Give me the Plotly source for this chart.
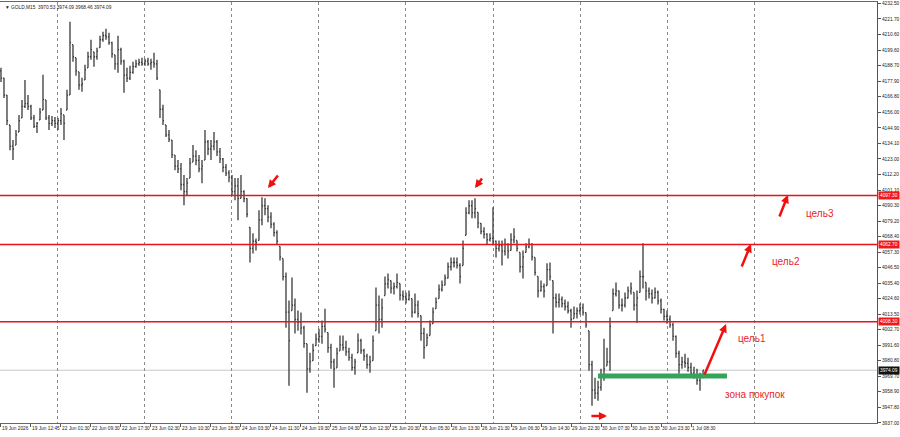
import numpy as np
import plotly.graph_objects as go

# ---------------- data (GOLD, resampled bars) ----------------
high = [4187.2, 4180.2, 4168.1, 4146.9, 4136.3, 4143.4, 4154.0, 4164.6, 4178.7, 4168.1,
        4161.1, 4154.0, 4149.0, 4158.9, 4182.3, 4164.6, 4154.0, 4153.3, 4152.6, 4151.9,
        4158.9, 4154.0, 4171.7, 4219.7, 4203.5, 4194.3, 4184.4, 4180.2, 4189.3, 4198.5,
        4207.0, 4198.5, 4201.4, 4209.8, 4212.7, 4214.8, 4212.0, 4205.6, 4196.4, 4209.8,
        4201.4, 4192.9, 4187.2, 4188.6, 4191.5, 4192.9, 4193.6, 4194.3, 4193.6, 4194.3,
        4193.6, 4197.8, 4192.9, 4171.7, 4161.1, 4146.9, 4143.4, 4136.3, 4125.7, 4122.2,
        4120.1, 4111.6, 4109.5, 4123.6, 4132.8, 4129.2, 4125.7, 4122.2, 4143.4, 4136.3,
        4136.3, 4142.0, 4136.3, 4130.7, 4123.6, 4119.4, 4115.1, 4111.6, 4109.5, 4109.5,
        4111.6, 4101.0, 4095.3, 4074.8, 4070.6, 4067.0, 4086.8, 4096.0, 4095.3, 4090.4,
        4085.4, 4078.3, 4072.7, 4061.4, 4052.9, 4043.0, 4023.2, 4039.5, 4024.6, 4016.1,
        4014.7, 4005.5, 3992.8, 3986.4, 3992.8, 3999.9, 4003.4, 4009.1, 4017.5, 4000.6,
        3992.8, 3982.2, 3990.0, 3998.5, 3998.5, 3994.9, 3990.0, 3985.7, 3982.2, 3999.9,
        3996.3, 3989.3, 3985.7, 3984.3, 3998.5, 4032.4, 4026.7, 4024.6, 4040.2, 4042.3,
        4037.3, 4035.9, 4042.3, 4035.2, 4030.3, 4028.9, 4030.3, 4024.6, 4028.1, 4023.2,
        4012.6, 4004.1, 3999.9, 4009.1, 4018.3, 4025.3, 4034.5, 4037.3, 4041.6, 4050.1,
        4053.6, 4053.6, 4053.6, 4049.4, 4065.6, 4089.0, 4093.9, 4093.9, 4095.3, 4085.4,
        4077.6, 4074.8, 4070.6, 4070.6, 4089.0, 4065.6, 4065.6, 4065.6, 4067.0, 4063.5,
        4070.6, 4074.1, 4065.6, 4057.1, 4058.5, 4063.5, 4067.0, 4063.5, 4053.6, 4040.2,
        4037.3, 4035.2, 4049.4, 4050.1, 4037.3, 4028.1, 4028.1, 4026.0, 4023.9, 4022.5,
        4017.5, 4019.0, 4018.3, 4021.1, 4021.1, 4014.7, 4002.0, 3980.8, 3968.8, 3966.6,
        3975.1, 3996.3, 3990.0, 4011.2, 4031.7, 4035.9, 4030.3, 4024.6, 4028.9, 4033.1,
        4035.9, 4028.9, 4030.3, 4044.4, 4063.5, 4035.9, 4032.4, 4031.0, 4032.4, 4030.3,
        4024.6, 4017.5, 4016.1, 4012.6, 4007.6, 3998.5, 3987.8, 3983.6, 3985.7, 3982.9,
        3979.4, 3976.5, 3975.1, 3972.3, 3974.09]

low = [4177.3, 4166.0, 4146.9, 4129.2, 4122.2, 4132.8, 4142.0, 4151.9, 4158.9, 4157.5,
       4150.5, 4144.8, 4141.3, 4150.5, 4157.5, 4150.5, 4143.4, 4146.2, 4144.8, 4143.4,
       4146.9, 4136.3, 4157.5, 4168.1, 4191.5, 4181.6, 4171.7, 4170.3, 4178.7, 4187.2,
       4192.9, 4187.9, 4192.9, 4201.4, 4205.6, 4207.0, 4203.5, 4194.3, 4185.8, 4183.7,
       4189.3, 4169.6, 4177.3, 4178.7, 4183.0, 4187.2, 4188.6, 4188.6, 4188.6, 4188.6,
       4185.8, 4187.2, 4178.7, 4151.9, 4146.9, 4138.4, 4134.9, 4123.6, 4115.1, 4113.0,
       4101.0, 4090.4, 4097.4, 4109.5, 4120.8, 4118.6, 4113.7, 4105.9, 4122.2, 4125.7,
       4122.2, 4129.2, 4125.0, 4120.1, 4113.7, 4110.9, 4106.6, 4097.4, 4093.9, 4079.8,
       4095.3, 4092.5, 4081.9, 4050.1, 4056.4, 4058.5, 4065.6, 4076.2, 4083.3, 4078.3,
       4074.1, 4068.4, 4062.8, 4051.5, 4037.3, 4004.1, 3963.1, 4016.1, 3999.9, 4002.0,
       3999.2, 3990.0, 3958.2, 3972.3, 3980.8, 3991.4, 3993.5, 3992.8, 4000.6, 3986.4,
       3975.1, 3961.7, 3975.8, 3987.8, 3987.8, 3984.3, 3980.8, 3973.7, 3970.9, 3986.4,
       3985.7, 3980.8, 3975.1, 3972.3, 3980.8, 4002.0, 3999.9, 4004.1, 4026.7, 4031.7,
       4028.1, 4027.4, 4031.7, 4023.2, 4023.2, 4021.1, 4023.2, 4011.2, 4014.0, 4011.2,
       3994.9, 3982.2, 3991.4, 3998.5, 4006.9, 4017.5, 4024.6, 4029.6, 4033.8, 4038.8,
       4044.4, 4046.5, 4045.8, 4035.2, 4047.9, 4069.2, 4084.0, 4081.2, 4081.2, 4074.1,
       4069.9, 4067.0, 4062.8, 4064.9, 4062.1, 4053.6, 4057.8, 4047.9, 4055.0, 4052.9,
       4058.5, 4063.5, 4057.8, 4043.0, 4038.8, 4057.1, 4060.0, 4051.5, 4040.9, 4025.3,
       4029.6, 4025.3, 4033.8, 4037.3, 3999.9, 4018.3, 4018.3, 4018.3, 4016.1, 4014.0,
       4004.1, 4010.5, 4010.5, 4013.3, 4012.6, 4004.1, 3973.7, 3949.0, 3953.9, 3952.5,
       3959.6, 3966.6, 3977.2, 3973.7, 4016.1, 4026.0, 4017.5, 4015.4, 4018.3, 4024.6,
       4027.4, 4016.1, 4007.6, 4028.9, 4031.7, 4023.2, 4024.6, 4021.1, 4024.6, 4020.4,
       4014.0, 4009.1, 4006.9, 4004.1, 3994.9, 3982.9, 3971.6, 3975.1, 3975.8, 3973.0,
       3968.8, 3968.1, 3963.8, 3959.6, 3968.46]

close = [4180, 4168, 4150, 4132, 4130, 4140, 4150, 4160, 4162, 4160,
         4152, 4146, 4148, 4156, 4165, 4152, 4148, 4150, 4148, 4150,
         4155, 4148, 4168, 4205, 4195, 4185, 4175, 4176, 4186, 4195,
         4200, 4195, 4199, 4207, 4210, 4209, 4205, 4197, 4190, 4200,
         4192, 4182, 4180, 4184, 4188, 4190, 4191, 4190, 4192, 4190,
         4191, 4190, 4180, 4158, 4150, 4140, 4137, 4126, 4118, 4116,
         4105, 4100, 4106, 4120, 4125, 4122, 4116, 4118, 4135, 4130,
         4132, 4135, 4128, 4123, 4117, 4113, 4110, 4100, 4104, 4095,
         4100, 4095, 4084, 4060, 4065, 4064, 4080, 4090, 4088, 4082,
         4077, 4071, 4065, 4054, 4040, 4015, 3995, 4020, 4010, 4008,
         4004, 3993, 3975, 3980, 3988, 3996, 3998, 4005, 4003, 3990,
         3980, 3975, 3986, 3992, 3990, 3987, 3983, 3976, 3980, 3995,
         3988, 3984, 3978, 3980, 3995, 4020, 4010, 4018, 4035, 4038,
         4032, 4033, 4036, 4027, 4026, 4024, 4027, 4015, 4020, 4014,
         4000, 3990, 3997, 4006, 4015, 4022, 4031, 4034, 4039, 4047,
         4050, 4050, 4048, 4040, 4060, 4085, 4090, 4085, 4088, 4078,
         4072, 4070, 4066, 4067, 4065, 4060, 4062, 4058, 4063, 4058,
         4066, 4068, 4060, 4047, 4054, 4061, 4063, 4054, 4043, 4030,
         4033, 4030, 4045, 4040, 4025, 4022, 4024, 4021, 4019, 4016,
         4010, 4014, 4016, 4018, 4015, 4006, 3978, 3960, 3958, 3962,
         3970, 3975, 3980, 4005, 4028, 4030, 4020, 4020, 4025, 4030,
         4032, 4020, 4025, 4040, 4040, 4030, 4028, 4025, 4029, 4023,
         4017, 4012, 4010, 4006, 3998, 3986, 3978, 3980, 3979, 3976,
         3972, 3971, 3967, 3970.53, 3974.09]

first_open = 4185.0

x_tick_pos = list(range(0, 240, 10))
x_tick_labels = ["19 Jun 2026", "19 Jun 12:45", "22 Jun 01:30", "22 Jun 09:30", "22 Jun 17:30",
                 "23 Jun 02:30", "23 Jun 10:30", "23 Jun 18:30", "24 Jun 03:30", "24 Jun 11:30",
                 "24 Jun 19:30", "25 Jun 04:30", "25 Jun 12:30", "25 Jun 20:30", "26 Jun 05:30",
                 "26 Jun 13:30", "26 Jun 21:30", "29 Jun 06:30", "29 Jun 14:30", "29 Jun 22:30",
                 "30 Jun 07:30", "30 Jun 15:30", "30 Jun 23:30", "1 Jul 08:30"]
day_separators = [19, 48, 77, 106, 135, 164, 193, 222, 251]

y_tick_vals = [4232.50, 4221.70, 4210.60, 4199.60, 4188.70, 4177.90, 4166.80, 4156.00, 4144.90,
               4134.10, 4123.00, 4112.20, 4101.10, 4090.30, 4079.20, 4068.40, 4057.30, 4046.50,
               4035.40, 4024.60, 4013.50, 4002.70, 3991.60, 3980.80, 3969.70, 3958.90, 3947.80,
               3937.00]

levels = [4097.30, 4062.70, 4008.30]
buy_zone = {"start": 199, "end": 242, "price": 3970.0}

arrows = [  # (tail_x, tail_y, head_x, head_y)
    (92.7, 4112.4, 89.0, 4102.5),
    (160.7, 4110.3, 158.0, 4102.5),
    (259.3, 4081.4, 262.3, 4097.6),
    (246.7, 4046.1, 250.0, 4063.0),
    (234.3, 3970.0, 241.7, 4006.6),
    (196.3, 3941.8, 202.0, 3941.8),
]
texts = [("цель3", 273.0, 4084.9), ("цель2", 261.7, 4050.4),
         ("цель1", 250.3, 3996.8), ("зона покупок", 251.3, 3957.3)]

# ---------------- build ----------------
n = len(close)
x = np.arange(n)
high_a = np.array(high)
low_a = np.array(low)
close_a = np.array(close, dtype=float)
open_a = np.concatenate([[first_open], close_a[:-1]])
open_a = np.clip(open_a, low_a, high_a)

FONT = "Liberation Sans, Arial, sans-serif"
RED = "#e8141c"
BAR = "#3a3a3a"

fig = go.Figure()
fig.add_trace(go.Ohlc(x=x, open=open_a, high=high_a, low=low_a, close=close_a,
                      increasing=dict(line=dict(color=BAR, width=1.3)),
                      decreasing=dict(line=dict(color=BAR, width=1.3)),
                      tickwidth=0.35, hoverinfo="skip", showlegend=False))
# invisible trace for the day-separator axis
fig.add_trace(go.Scatter(x=[day_separators[0]], y=[close[-1]], xaxis="x2", mode="markers",
                         marker=dict(opacity=0), hoverinfo="skip", showlegend=False))

xr = [-0.33, 292.0]
yr = [3936.9, 4233.6]

fig.update_layout(
    width=900, height=437,
    margin=dict(l=0, r=23, t=2, b=14, autoexpand=False),
    paper_bgcolor="white", plot_bgcolor="white",
    font=dict(family=FONT, size=5, color="black"),
    showlegend=False,
    xaxis=dict(range=xr, rangeslider=dict(visible=False), showgrid=False, zeroline=False,
               tickmode="array", tickvals=x_tick_pos, ticktext=x_tick_labels,
               ticks="outside", ticklen=3, tickcolor="#555", tickwidth=1, tickangle=0,
               ticklabelposition="outside right", automargin=False,
               showline=True, linecolor="#666", linewidth=1, mirror=True,
               tickfont=dict(size=4.8, family=FONT, color="#222")),
    xaxis2=dict(range=xr, overlaying="x", matches="x", showgrid=True, gridcolor="#8a8a8a",
                griddash="dot", gridwidth=1, tickmode="array", tickvals=day_separators,
                showticklabels=False, ticks="", zeroline=False, showline=False),
    yaxis=dict(range=yr, side="right", showgrid=False, zeroline=False, automargin=False,
               tickmode="array", tickvals=y_tick_vals,
               ticktext=[f"{v:.2f}" for v in y_tick_vals],
               ticks="outside", ticklen=3, tickcolor="#555",
               showline=True, linecolor="#555", linewidth=1,
               tickfont=dict(size=4.8, family=FONT, color="#222")),
)

# current price line
fig.add_hline(y=close[-1], line=dict(color="#c8c8c8", width=1), layer="below")

# resistance / target levels
for lv in levels:
    fig.add_hline(y=lv, line=dict(color=RED, width=1.5))
    fig.add_annotation(xref="paper", yref="y", x=1.0, y=lv, xanchor="left", yanchor="middle",
                       xshift=1, text=f"{lv:.2f}", showarrow=False, bgcolor="#f01818",
                       font=dict(size=4.8, color="white", family=FONT), borderpad=1)
fig.add_annotation(xref="paper", yref="y", x=1.0, y=close[-1], xanchor="left", yanchor="middle",
                   xshift=1, text=f"{close[-1]:.2f}", showarrow=False, bgcolor="#111",
                   font=dict(size=4.8, color="white", family=FONT), borderpad=1)

# buy zone
fig.add_shape(type="line", x0=buy_zone["start"], x1=buy_zone["end"],
              y0=buy_zone["price"], y1=buy_zone["price"],
              line=dict(color="#35a35a", width=5))

for tx, ty, hx, hy in arrows:
    fig.add_annotation(x=hx, y=hy, ax=tx, ay=ty, xref="x", yref="y", axref="x", ayref="y",
                       showarrow=True, arrowhead=2, arrowsize=0.65, arrowwidth=2.5,
                       arrowcolor="#f01010", text="", standoff=0)

for t, tx, ty in texts:
    fig.add_annotation(x=tx, y=ty, xref="x", yref="y", text=t, showarrow=False,
                       font=dict(size=10, color="#e8262a", family=FONT))

# chart header
fig.add_annotation(xref="paper", yref="paper", x=0.003, y=1.0, xanchor="left", yanchor="top",
                   yshift=-1, showarrow=False,
                   text=f"▼ GOLD,M15  {open_a[-1]:.2f} {high[-1]:.2f} {low[-1]:.2f} {close[-1]:.2f}",
                   font=dict(size=4.8, color="#222", family=FONT))

fig.write_html("out.html")
